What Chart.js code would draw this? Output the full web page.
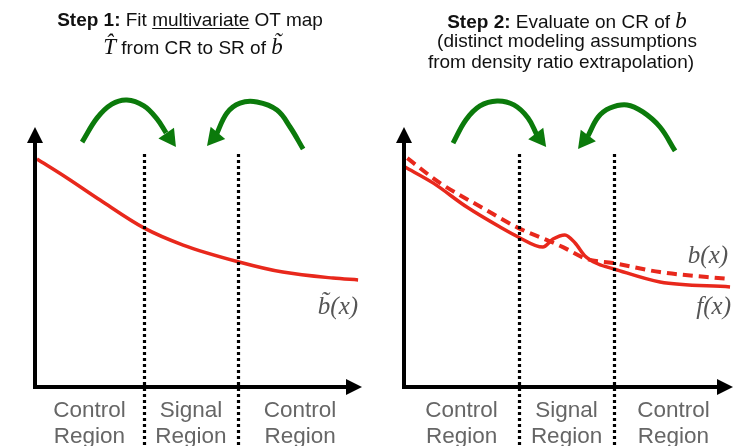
<!DOCTYPE html>
<html><head><meta charset="utf-8">
<script src="https://cdn.jsdelivr.net/npm/chart.js@4"></script>
<style>
html,body{margin:0;padding:0;background:#fff;}
#wrap{position:relative;width:735px;height:446px;overflow:hidden;background:#fff;}
.panel{position:absolute;top:0;height:446px;}
.tl{position:absolute;font-family:"Liberation Sans",Arial,Helvetica,sans-serif;font-size:19px;color:#111;text-align:center;white-space:nowrap;line-height:22px;}
.tl u{text-decoration-thickness:1px;text-underline-offset:2px;}
.m{font-family:"Liberation Serif","DejaVu Serif",serif;font-style:italic;font-size:23px;line-height:1;}
</style></head>
<body>
<div id="wrap">
  <div class="panel" style="left:0;width:370px"><canvas id="c1" width="370" height="446"></canvas></div>
  <div class="panel" style="left:370px;width:365px"><canvas id="c2" width="365" height="446"></canvas></div>
  <div class="tl" style="left:0;width:380px;top:9px"><b>Step 1:</b> Fit <u>multivariate</u> OT map</div>
  <div class="tl" style="left:0;width:386px;top:35px"><span class="m">T̂</span> from CR to SR of <span class="m">b̃</span></div>
  <div class="tl" style="left:400px;width:334px;top:9px"><b>Step 2:</b> Evaluate on CR of <span class="m">b</span></div>
  <div class="tl" style="left:400px;width:334px;top:30px">(distinct modeling assumptions</div>
  <div class="tl" style="left:400px;width:322px;top:51px">from density ratio extrapolation)</div>
</div>
<script>
// ---------- data (x: 0..10 along the axis, y: 0..10 along the axis) ----------
const regionNames = ['Control Region', 'Signal Region', 'Control Region'];

// Left panel: fitted curve b~(x)
const leftCurveX = [0.06, 0.98, 1.99, 3.33, 4.53, 6.24, 7.58, 9.11, 9.88];
const leftCurveY = [8.77, 8.04, 7.19, 6.12, 5.46, 4.81, 4.42, 4.19, 4.12];
const leftBounds = [3.33, 6.21];

// Right panel: f(x) (solid, with signal bump) and b(x) (dashed)
const fX = [0.03, 0.88, 1.91, 2.92, 3.47, 4.22, 4.53, 4.89, 5.20, 5.50, 5.90, 6.38, 7.78, 9.91];
const fY = [8.46, 7.85, 6.92, 6.15, 5.77, 5.38, 5.69, 5.85, 5.54, 5.04, 4.73, 4.54, 4.04, 3.85];
const bX = [0.10, 1.09, 2.40, 3.47, 4.35, 4.83, 5.56, 6.35, 7.78, 9.91];
const bY = [8.80, 7.85, 6.88, 6.12, 5.65, 5.38, 4.92, 4.77, 4.42, 4.15];
const rightBounds = [3.50, 6.38];

// Green transport arrows (shaft points and arrow tips)
const leftArrowAX = [1.44, 1.90, 2.35, 2.81, 3.33, 3.73, 4.01];
const leftArrowAY = [9.42, 10.35, 10.88, 11.04, 10.81, 10.31, 9.77];
const leftArrowATip = [4.31, 9.23];
const leftArrowBX = [8.20, 7.80, 7.40, 6.79, 6.27, 5.87, 5.54];
const leftArrowBY = [9.15, 10.00, 10.65, 10.96, 10.92, 10.54, 9.69];
const leftArrowBTip = [5.26, 9.27];
const rightArrowAX = [1.49, 1.88, 2.31, 2.83, 3.34, 3.77, 4.04];
const rightArrowAY = [9.38, 10.27, 10.81, 11.00, 10.85, 10.35, 9.69];
const rightArrowATip = [4.32, 9.23];
const rightArrowBX = [8.24, 7.78, 7.26, 6.78, 6.26, 5.90, 5.59];
const rightArrowBY = [9.08, 10.00, 10.58, 10.85, 10.73, 10.38, 9.65];
const rightArrowBTip = [5.29, 9.15];

const dividerTop = 8.96;

// ---------- helpers ----------
const RED = '#e8281c', GREEN = '#0b7a0b';
const pts = (xs, ys) => xs.map((x, i) => ({x, y: ys[i]}));

function curveDS(xs, ys, dash, width) {
  return {data: pts(xs, ys), borderColor: RED, borderWidth: width, borderDash: dash,
          pointRadius: 0, cubicInterpolationMode: 'monotone', fill: false, borderCapStyle: 'butt'};
}
function arrowDS(xs, ys) {
  return {data: pts(xs, ys), borderColor: GREEN, borderWidth: 5, pointRadius: 0,
          tension: 0.38, fill: false, borderCapStyle: 'butt'};
}

const diagram = {
  id: 'diagram',
  afterDatasetsDraw(chart, args, o) {
    const ctx = chart.ctx, xs = chart.scales.x, ys = chart.scales.y;
    const X = v => xs.getPixelForValue(v), Y = v => ys.getPixelForValue(v);
    ctx.save();
    // arrow heads for green arrows
    ctx.fillStyle = GREEN;
    o.arrows.forEach(a => {
      const n = a.xs.length - 1;
      const sx = X(a.xs[n]), sy = Y(a.ys[n]);
      const tx = X(a.tip[0]), ty = Y(a.tip[1]);
      let dx = tx - sx, dy = ty - sy; const L = Math.hypot(dx, dy); dx /= L; dy /= L;
      const bx = tx - dx * 17, by = ty - dy * 17, w = 9.5;
      ctx.beginPath();
      ctx.moveTo(tx, ty);
      ctx.lineTo(bx - dy * w, by + dx * w);
      ctx.lineTo(bx + dy * w, by - dx * w);
      ctx.closePath(); ctx.fill();
    });
    // dotted region dividers
    ctx.strokeStyle = '#000'; ctx.lineWidth = 3.2; ctx.setLineDash([3, 3]);
    o.bounds.forEach(b => {
      const px = Math.round(X(b)) + 0.5;
      ctx.beginPath(); ctx.moveTo(px, Y(dividerTop)); ctx.lineTo(px, chart.height); ctx.stroke();
    });
    ctx.setLineDash([]);
    // axes with arrow heads
    const x0 = X(0), y0 = Y(0), xe = X(10), ye = Y(10);
    ctx.lineWidth = 4; ctx.strokeStyle = '#000'; ctx.fillStyle = '#000';
    ctx.beginPath(); ctx.moveTo(x0 - 2, y0); ctx.lineTo(xe - 12, y0); ctx.stroke();
    ctx.beginPath(); ctx.moveTo(x0, y0 + 2); ctx.lineTo(x0, ye + 12); ctx.stroke();
    ctx.beginPath(); ctx.moveTo(xe, y0); ctx.lineTo(xe - 16, y0 - 8); ctx.lineTo(xe - 16, y0 + 8); ctx.closePath(); ctx.fill();
    ctx.beginPath(); ctx.moveTo(x0, ye); ctx.lineTo(x0 - 8, ye + 16); ctx.lineTo(x0 + 8, ye + 16); ctx.closePath(); ctx.fill();
    // curve labels
    ctx.fillStyle = '#555'; ctx.textAlign = 'right'; ctx.textBaseline = 'alphabetic';
    ctx.font = 'italic 25px "Liberation Serif", "DejaVu Serif", serif';
    o.labels.forEach(l => ctx.fillText(l.text, X(l.x), Y(l.y)));
    // region labels
    ctx.fillStyle = '#666'; ctx.textAlign = 'center';
    ctx.font = '22.5px "Liberation Sans", Arial, sans-serif';
    const edges = [0, ...o.bounds, 10];
    regionNames.forEach((name, i) => {
      const cx = X((edges[i] + edges[i + 1]) / 2);
      const parts = name.split(' ');
      ctx.fillText(parts[0], cx, y0 + 30);
      ctx.fillText(parts[1], cx, y0 + 56);
    });
    ctx.restore();
  }
};

function makeChart(id, datasets, pad, opts) {
  return new Chart(document.getElementById(id), {
    type: 'line',
    data: {datasets},
    options: {
      responsive: false, animation: false, devicePixelRatio: 1,
      layout: {padding: pad},
      scales: {
        x: {type: 'linear', min: 0, max: 10, display: false},
        y: {type: 'linear', min: 0, max: 12, display: false}
      },
      plugins: {legend: {display: false}, tooltip: {enabled: false}, title: {display: false}, diagram: opts},
      elements: {point: {radius: 0}}
    },
    plugins: [diagram]
  });
}

makeChart('c1', [
  curveDS(leftCurveX, leftCurveY, [], 3.5),
  arrowDS(leftArrowAX, leftArrowAY),
  arrowDS(leftArrowBX, leftArrowBY)
], {left: 35, right: 8, top: 75, bottom: 59}, {
  bounds: leftBounds,
  arrows: [
    {xs: leftArrowAX, ys: leftArrowAY, tip: leftArrowATip},
    {xs: leftArrowBX, ys: leftArrowBY, tip: leftArrowBTip}
  ],
  labels: [{text: 'b̃(x)', x: 9.88, y: 2.81}]
});

makeChart('c2', [
  curveDS(bX, bY, [10, 6], 4),
  curveDS(fX, fY, [], 3.5),
  arrowDS(rightArrowAX, rightArrowAY),
  arrowDS(rightArrowBX, rightArrowBY)
], {left: 34, right: 2, top: 75, bottom: 59}, {
  bounds: rightBounds,
  arrows: [
    {xs: rightArrowAX, ys: rightArrowAY, tip: rightArrowATip},
    {xs: rightArrowBX, ys: rightArrowBY, tip: rightArrowBTip}
  ],
  labels: [{text: 'b(x)', x: 9.85, y: 4.77}, {text: 'f(x)', x: 9.94, y: 2.81}]
});
</script>
</body></html>
